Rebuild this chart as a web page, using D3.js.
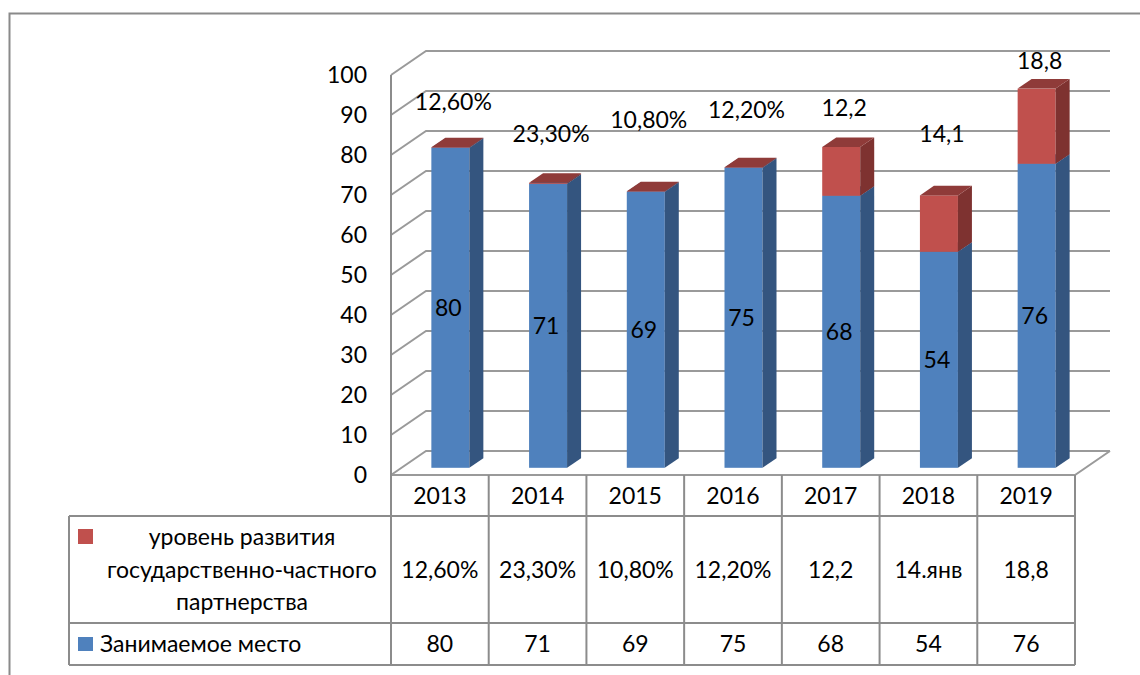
<!DOCTYPE html>
<html>
<head>
<meta charset="utf-8">
<script src="https://cdn.jsdelivr.net/npm/d3@7"></script>
<style>
  body { margin: 0; background: #fff; }
  text { font-family: Lato, "Noto Sans", sans-serif; fill: #000; }
</style>
</head>
<body>
<svg id="chart"></svg>
<script>
// data
const years = ["2013", "2014", "2015", "2016", "2017", "2018", "2019"];
const placeValues = [80, 71, 69, 75, 68, 54, 76];           // Занимаемое место
const pppValues = [0.126, 0.233, 0.108, 0.122, 12.2, 14.1, 18.8]; // уровень развития ГЧП
const pppLabels = ["12,60%", "23,30%", "10,80%", "12,20%", "12,2", "14,1", "18,8"];
const pppTableLabels = ["12,60%", "23,30%", "10,80%", "12,20%", "12,2", "14.янв", "18,8"];
const yTicks = [0, 10, 20, 30, 40, 50, 60, 70, 80, 90, 100];

const W = 1140, H = 675;
const X0 = 391, X1 = 1075, Y0 = 475, Y1 = 75;   // front plane of the plot
const DX = 35, DY = -24;                        // depth of the 3d box
const d0 = 0.3, d1 = 0.7;                       // bar front / back depth
const barW = 38;
const gridColor = "#9a9a9a", tableColor = "#8c8c8c";
const fs = 23;

const colors = {
  place: { front: "#4f81bd", side: "#34557f", top: "#3f6a9c" },
  ppp:   { front: "#c0504d", side: "#7e3230", top: "#8f3b39" }
};

// manual nudges of the red labels (px above the stack top), as in the source
const redLabelLift = [46, 49, 72, 58, 39, 62, 28];

const svg = d3.select("#chart").attr("width", W).attr("height", H);
svg.append("rect").attr("width", W).attr("height", H).attr("fill", "#fff");

// outer frame, runs off the right and bottom edge
svg.append("path")
  .attr("d", `M9.5,${H + 5} L9.5,13.5 L${W + 5},13.5`)
  .attr("fill", "none").attr("stroke", "#8a8a8a").attr("stroke-width", 2);

const x = d3.scaleBand().domain(years).range([X0, X1]);
const y = d3.scaleLinear().domain([0, 100]).range([Y0, Y1]);

// gridlines: left wall diagonal + back wall
const grid = svg.append("g").attr("fill", "none").attr("stroke", gridColor).attr("stroke-width", 2);
yTicks.forEach(t => {
  grid.append("path")
    .attr("d", `M${X0},${y(t)} L${X0 + DX},${y(t) + DY} L${X1 + DX},${y(t) + DY}`);
});
// floor front + right edge
grid.append("path").attr("d", `M${X0},${Y0} L${X1},${Y0} L${X1 + DX},${Y0 + DY}`);

// y axis labels
svg.append("g").selectAll("text").data(yTicks).join("text")
  .attr("x", 367).attr("y", d => y(d)).attr("dy", "0.36em")
  .attr("text-anchor", "end").attr("font-size", fs)
  .text(d => d);

// stacked 3d columns
const rows = years.map((yr, i) => ({ year: yr, place: placeValues[i], ppp: pppValues[i] }));
const series = d3.stack().keys(["place", "ppp"])(rows);

const bars = svg.append("g");
series.forEach(s => {
  const c = colors[s.key];
  s.forEach((d, i) => {
    const bx = x(years[i]) + (x.bandwidth() - barW) / 2;
    const ya = y(d[0]), yb = y(d[1]);
    const fx = bx + DX * d0, bxx = bx + DX * d1;
    const fy = DY * d0, by = DY * d1;
    const g = bars.append("g");
    g.append("rect")
      .attr("x", fx).attr("y", yb + fy)
      .attr("width", barW).attr("height", Math.max(0, ya - yb))
      .attr("fill", c.front);
    g.append("path")
      .attr("d", `M${fx + barW},${yb + fy} L${bxx + barW},${yb + by} L${bxx + barW},${ya + by} L${fx + barW},${ya + fy}Z`)
      .attr("fill", c.side);
    g.append("path")
      .attr("d", `M${fx},${yb + fy} L${fx + barW},${yb + fy} L${bxx + barW},${yb + by} L${bxx},${yb + by}Z`)
      .attr("fill", c.top);
  });
});

// value labels
const blueSeries = series[0], redSeries = series[1];
svg.append("g").selectAll("text").data(blueSeries).join("text")
  .attr("x", (d, i) => x(years[i]) + x.bandwidth() / 2 + DX * d0 - 2)
  .attr("y", d => y((d[0] + d[1]) / 2) + DY * d0)
  .attr("dy", "0.36em").attr("text-anchor", "middle").attr("font-size", fs)
  .text((d, i) => placeValues[i]);

svg.append("g").selectAll("text").data(redSeries).join("text")
  .attr("x", (d, i) => x(years[i]) + x.bandwidth() / 2 + DX * d0 + 3)
  .attr("y", (d, i) => y(d[1]) + DY * d0 - redLabelLift[i])
  .attr("dy", "0.36em").attr("text-anchor", "middle").attr("font-size", fs)
  .text((d, i) => pppLabels[i]);

// data table
const TL = 69, R1 = 516, R2 = 623, R3 = 665;
const tbl = svg.append("g").attr("fill", "none").attr("stroke", tableColor).attr("stroke-width", 2);
tbl.append("line").attr("x1", X0).attr("x2", X0).attr("y1", y(100)).attr("y2", R3);
years.forEach(yr => {
  const xr = x(yr) + x.bandwidth();
  tbl.append("line").attr("x1", xr).attr("x2", xr).attr("y1", Y0).attr("y2", R3);
});
[R1, R2, R3].forEach(r => tbl.append("line").attr("x1", TL).attr("x2", X1).attr("y1", r).attr("y2", r));
tbl.append("line").attr("x1", TL).attr("x2", TL).attr("y1", R1).attr("y2", R3);

const cellX = yr => x(yr) + x.bandwidth() / 2;
svg.append("g").selectAll("text").data(years).join("text")
  .attr("x", cellX).attr("y", (Y0 + R1) / 2).attr("dy", "0.36em")
  .attr("text-anchor", "middle").attr("font-size", fs).text(d => d);
svg.append("g").selectAll("text").data(years).join("text")
  .attr("x", cellX).attr("y", (R1 + R2) / 2).attr("dy", "0.36em")
  .attr("text-anchor", "middle").attr("font-size", fs).text((d, i) => pppTableLabels[i]);
svg.append("g").selectAll("text").data(years).join("text")
  .attr("x", cellX).attr("y", (R2 + R3) / 2).attr("dy", "0.36em")
  .attr("text-anchor", "middle").attr("font-size", fs).text((d, i) => placeValues[i]);

// legend keys inside the table
svg.append("rect").attr("x", 78).attr("y", 529).attr("width", 15).attr("height", 15).attr("fill", colors.ppp.front);
const lt = svg.append("text").attr("text-anchor", "middle").attr("font-size", fs);
["уровень развития", "государственно-частного", "партнерства"].forEach((line, k) => {
  lt.append("tspan").attr("x", 242).attr("y", 537 + k * 32.5).attr("dy", "0.36em").text(line);
});
svg.append("rect").attr("x", 78).attr("y", 637).attr("width", 15).attr("height", 14).attr("fill", colors.place.front);
svg.append("text").attr("x", 100).attr("y", 644).attr("dy", "0.36em")
  .attr("font-size", fs).text("Занимаемое место");
</script>
</body>
</html>
